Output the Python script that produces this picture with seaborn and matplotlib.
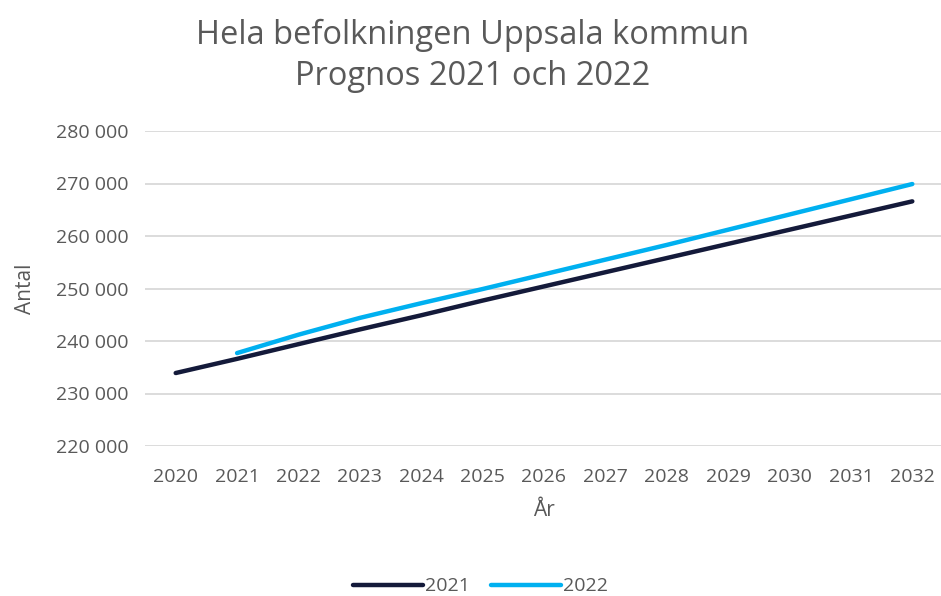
import seaborn as sns
import pandas as pd
import matplotlib.pyplot as plt
from matplotlib.ticker import FuncFormatter

years = [2020, 2021, 2022, 2023, 2024, 2025, 2026, 2027, 2028, 2029, 2030, 2031, 2032]
prognos_2021 = [233900, 236600, 239400, 242200, 244900, 247700, 250400, 253100,
                255800, 258500, 261200, 263900, 266600]
prognos_2022 = [None, 237700, 241200, 244400, 247200, 249900, 252700, 255500,
                258300, 261200, 264100, 267000, 269900]
series_names = ["2021", "2022"]
colors = ["#141a3a", "#00b0f0"]

df = pd.DataFrame({"År": [str(y) for y in years] * 2,
                   "Antal": prognos_2021 + prognos_2022,
                   "Prognos": [series_names[0]] * len(years) + [series_names[1]] * len(years)})
df = df.dropna()

sns.set_style("white")
plt.rcParams['font.family'] = ['Open Sans', 'DejaVu Sans']
gray = "#595959"

fig = plt.figure(figsize=(9.41, 5.96), dpi=100)
ax = fig.add_axes([145 / 941, 150 / 596, 798 / 941, 315 / 596])
sns.lineplot(data=df, x="År", y="Antal", hue="Prognos", palette=colors,
             linewidth=3.2, sort=False, ax=ax, solid_capstyle="round")

ax.set_ylim(220000, 280000)
ax.set_xlim(-0.5, len(years) - 0.5)
ax.set_yticks(range(220000, 280001, 10000))
ax.yaxis.set_major_formatter(FuncFormatter(lambda v, p: f"{int(v):,}".replace(",", " ")))
ax.grid(axis="y", color="#d9d9d9", linewidth=1.3)
for s in ax.spines.values():
    s.set_visible(False)
ax.tick_params(axis="y", length=0, labelsize=14, colors=gray, pad=12)
ax.tick_params(axis="x", length=0, labelsize=14, colors=gray, pad=16)
ax.set_xlabel("År", fontsize=15, color=gray, labelpad=10)
ax.set_ylabel("Antal", fontsize=15, color=gray, labelpad=14)

fig.text(0.502, 0.968, "Hela befolkningen Uppsala kommun\nPrognos 2021 och 2022",
         ha="center", va="top", fontsize=23.5, color=gray, linespacing=1.3)

leg = ax.legend(loc="lower center", bbox_to_anchor=(0.42, -0.53), ncol=2, frameon=False,
                fontsize=14, handlelength=3.6, handletextpad=0.1, columnspacing=1.1)
for t in leg.get_texts():
    t.set_color(gray)
for l in leg.get_lines():
    l.set_linewidth(3.2)

fig.savefig("out.png", dpi=100)
